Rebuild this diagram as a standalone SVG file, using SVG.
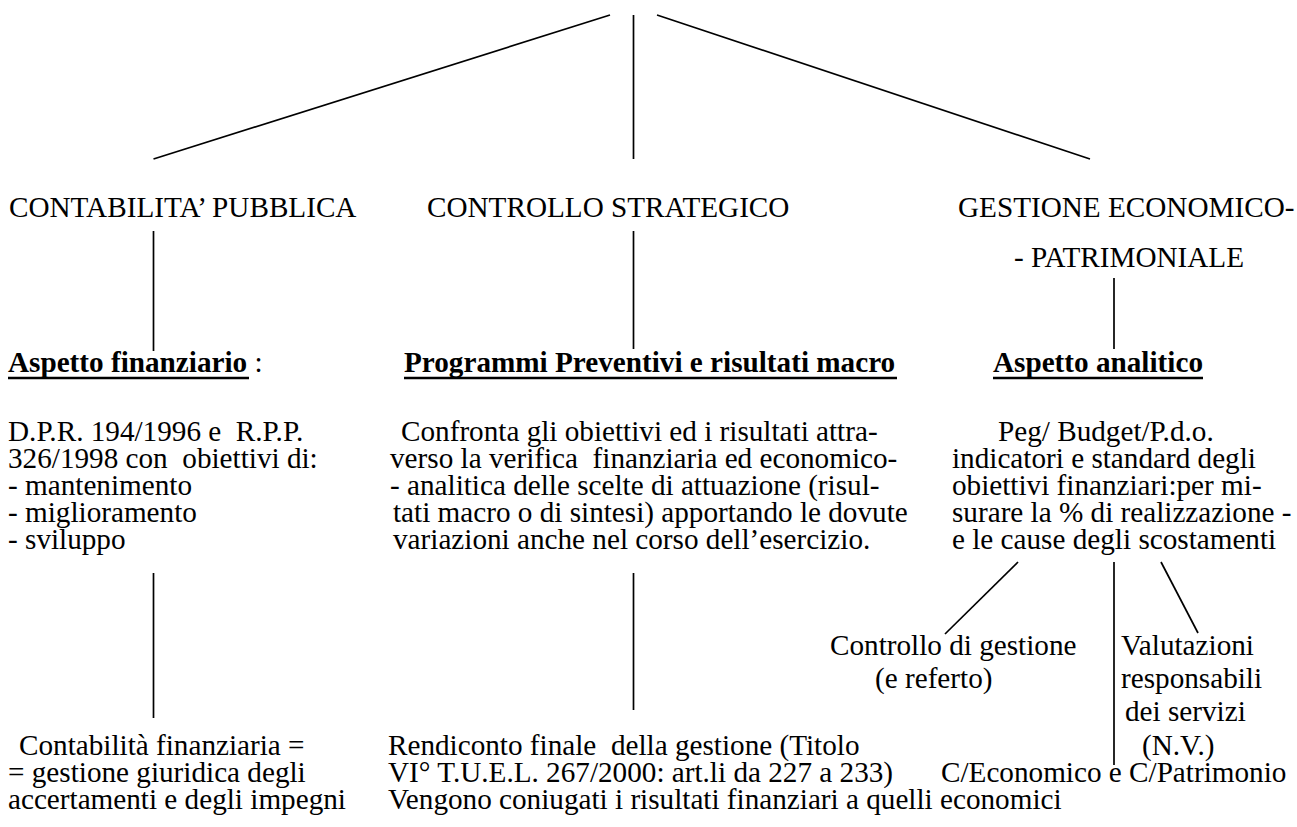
<svg xmlns="http://www.w3.org/2000/svg" width="1297" height="827" viewBox="0 0 1297 827">
<style>
.t{font-family:"Liberation Serif","Times New Roman",serif;font-size:29.2px;fill:#000}
.b{font-weight:bold}
.c{stroke:#000;stroke-width:1.7;fill:none}
.u{stroke:#000;stroke-width:2.5}
</style>
<rect width="1297" height="827" fill="#fff"/>
<g id="connectors">
<line class="c" x1="610" y1="15" x2="153.5" y2="159"/>
<line class="c" x1="633.5" y1="15" x2="633.5" y2="159"/>
<line class="c" x1="657" y1="15" x2="1090" y2="159"/>
<line class="c" x1="153.5" y1="231" x2="153.5" y2="351"/>
<line class="c" x1="633.5" y1="231" x2="633.5" y2="349"/>
<line class="c" x1="1114" y1="278" x2="1114" y2="349"/>
<line class="c" x1="153.5" y1="573" x2="153.5" y2="718"/>
<line class="c" x1="633.5" y1="573" x2="633.5" y2="710"/>
<line class="c" x1="1018" y1="562" x2="945" y2="634"/>
<line class="c" x1="1114" y1="562" x2="1114" y2="765"/>
<line class="c" x1="1161" y1="562" x2="1198" y2="633"/>
</g>
<g id="contabilita-pubblica"><text class="t" x="9" y="217">CONTABILITA’ PUBBLICA</text></g>
<g id="controllo-strategico"><text class="t" x="427" y="217">CONTROLLO STRATEGICO</text></g>
<g id="gestione-economico-patrimoniale">
<text class="t" x="958" y="217">GESTIONE ECONOMICO-</text>
<text class="t" x="1014" y="267">- PATRIMONIALE</text>
</g>
<g id="aspetto-finanziario">
<text class="t" x="8" y="372"><tspan class="b">Aspetto finanziario</tspan> :</text>
<line class="u" x1="8" y1="378" x2="249" y2="378"/>
<text class="t" xml:space="preserve" x="8" y="441">D.P.R. 194/1996 e  R.P.P.</text>
<text class="t" xml:space="preserve" x="8" y="468">326/1998 con  obiettivi di:</text>
<text class="t" x="8" y="495">- mantenimento</text>
<text class="t" x="8" y="522">- miglioramento</text>
<text class="t" x="8" y="549">- sviluppo</text>
</g>
<g id="programmi-preventivi">
<text class="t b" x="404" y="372">Programmi Preventivi e risultati macro</text>
<line class="u" x1="404" y1="378" x2="897" y2="378"/>
<text class="t" x="401" y="441">Confronta gli obiettivi ed i risultati attra-</text>
<text class="t" xml:space="preserve" x="390" y="468">verso la verifica  finanziaria ed economico-</text>
<text class="t" x="390" y="495">- analitica delle scelte di attuazione (risul-</text>
<text class="t" x="393" y="522">tati macro o di sintesi) apportando le dovute</text>
<text class="t" x="393" y="549">variazioni anche nel corso dell’esercizio.</text>
</g>
<g id="aspetto-analitico">
<text class="t b" x="993" y="372">Aspetto analitico</text>
<line class="u" x1="993" y1="378" x2="1203" y2="378"/>
<text class="t" x="998" y="441">Peg/ Budget/P.d.o.</text>
<text class="t" x="952" y="468">indicatori e standard degli</text>
<text class="t" x="952" y="495">obiettivi finanziari:per mi-</text>
<text class="t" x="952" y="522">surare la % di realizzazione -</text>
<text class="t" x="952" y="549">e le cause degli scostamenti</text>
</g>
<g id="controllo-di-gestione">
<text class="t" x="830" y="655">Controllo di gestione</text>
<text class="t" x="875" y="688">(e referto)</text>
</g>
<g id="valutazioni-responsabili">
<text class="t" x="1121" y="655">Valutazioni</text>
<text class="t" x="1121" y="688">responsabili</text>
<text class="t" x="1125" y="721">dei servizi</text>
<text class="t" x="1142" y="755">(N.V.)</text>
</g>
<g id="contabilita-finanziaria">
<text class="t" x="19" y="755">Contabilità finanziaria =</text>
<text class="t" x="8" y="782">= gestione giuridica degli</text>
<text class="t" x="8" y="809">accertamenti e degli impegni</text>
</g>
<g id="rendiconto-finale">
<text class="t" xml:space="preserve" x="388" y="755">Rendiconto finale  della gestione (Titolo</text>
<text class="t" x="388" y="782">VI° T.U.E.L. 267/2000: art.li da 227 a 233)</text>
<text class="t" x="388" y="809">Vengono coniugati i risultati finanziari a quelli economici</text>
</g>
<g id="conto-economico-patrimonio">
<text class="t" x="941" y="782">C/Economico e C/Patrimonio</text>
</g>
</svg>
